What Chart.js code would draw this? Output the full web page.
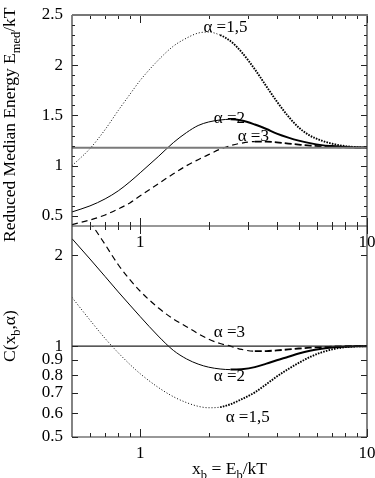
<!DOCTYPE html>
<html>
<head>
<meta charset="utf-8">
<script src="https://cdn.jsdelivr.net/npm/chart.js@4.4.1/dist/chart.umd.min.js"></script>
<style>
  html, body { margin: 0; padding: 0; background: #fff; }
  #wrap { position: relative; width: 375px; height: 478px; }
  #wrap canvas { position: absolute; left: 0; top: 0; }
</style>
</head>
<body>
<div id="wrap">
  <canvas id="lowerChart" width="375" height="478"></canvas>
  <canvas id="upperChart" width="375" height="478"></canvas>
</div>
<script>
/* ============================================================
   Reduced median energy (top) and correction C(x_b, alpha) (bottom)
   ============================================================ */

// x_b = E_b / kT, sampled on a common grid
const X_GRID = [0.5, 0.6, 0.7, 0.8, 0.9, 1.0, 1.2, 1.4, 1.6, 1.8, 2.0, 2.25, 2.5, 2.8, 3.2, 3.6, 4.0, 4.5, 5.0, 5.6, 6.3, 7.0, 8.0, 9.0, 10];

// upper panel: E_med / kT
const EMED_A15 = [1.00, 1.17, 1.36, 1.55, 1.71, 1.85, 2.05, 2.19, 2.27, 2.32, 2.33, 2.30, 2.24, 2.13, 1.96, 1.79, 1.64, 1.49, 1.38, 1.30, 1.25, 1.22, 1.195, 1.185, 1.18];
const EMED_A2 = [0.54, 0.60, 0.67, 0.75, 0.84, 0.93, 1.09, 1.23, 1.33, 1.40, 1.435, 1.455, 1.462, 1.45, 1.41, 1.365, 1.32, 1.28, 1.25, 1.225, 1.205, 1.195, 1.186, 1.182, 1.18];
const EMED_A3 = [0.414, 0.46, 0.51, 0.57, 0.63, 0.70, 0.82, 0.92, 1.00, 1.06, 1.11, 1.165, 1.20, 1.225, 1.24, 1.24, 1.232, 1.22, 1.21, 1.20, 1.192, 1.187, 1.183, 1.181, 1.18];
const EMED_LIMIT = 1.18;

// lower panel: C(x_b, alpha)
const C_A15 = [1.45, 1.22, 1.06, 0.95, 0.87, 0.81, 0.73, 0.68, 0.65, 0.632, 0.625, 0.628, 0.642, 0.667, 0.703, 0.748, 0.793, 0.84, 0.88, 0.92, 0.953, 0.975, 0.992, 0.998, 1.0];
const C_A2 = [2.27, 1.944, 1.70, 1.512, 1.368, 1.252, 1.08, 0.968, 0.907, 0.872, 0.852, 0.840, 0.836, 0.839, 0.852, 0.875, 0.898, 0.922, 0.945, 0.965, 0.98, 0.99, 0.996, 0.999, 1.0];
const C_A3 = [3.1, 2.58, 2.17, 1.86, 1.66, 1.52, 1.34, 1.23, 1.16, 1.10, 1.055, 1.02, 1.0, 0.975, 0.962, 0.963, 0.968, 0.975, 0.982, 0.988, 0.993, 0.997, 0.999, 1.0, 1.0];
const C_REF = 1;

// ticks
const X_LABELS = [1, 10];
const X_MINOR = [0.6, 0.7, 0.8, 0.9, 2, 3, 4, 5, 6, 7, 8, 9];
const EMED_LABELS = [0.5, 1, 1.5, 2, 2.5];
const EMED_MINOR = [0.6, 0.7, 0.8, 0.9, 1.1, 1.2, 1.3, 1.4, 1.6, 1.7, 1.8, 1.9, 2.1, 2.2, 2.3, 2.4];
const C_LABELS = [0.5, 0.6, 0.7, 0.8, 0.9, 1, 2];

// text
const CURVE_NAMES = ['\u03b1 =1,5', '\u03b1 =2', '\u03b1 =3'];
const EMED_TITLE = [['Reduced Median Energy E', false], ['med', true], ['/kT', false]];
const C_TITLE = [['C(x', false], ['b', true], [',\u03b1)', false]];
const X_TITLE = [['x', false], ['b', true], [' = E', false], ['b', true], ['/kT', false]];

const SERIF = '"Liberation Serif", "Times New Roman", Times, serif';
const FONT_SIZE = 17;
const TITLE_SIZE = 17.5;

// line looks: thin on the left, heavier once the curves settle
const DOTTED = { thin: 1, dash: [1, 2], thick: 1.9, dashThick: [1.6, 1.2], from: 2.2 };
const SOLID = { thin: 1, dash: [], thick: 2, dashThick: [], from: 2.5 };
const DASHED = { thin: 1.2, dash: [6, 4], thick: 1.8, dashThick: [7, 3], from: 3.2 };

function seriesPoints(ys) {
  return X_GRID.map((x, i) => ({ x, y: ys[i] }));
}

function curveDataset(ys, look) {
  return {
    data: seriesPoints(ys),
    borderColor: '#000',
    borderWidth: look.thin,
    borderDash: look.dash,
    pointRadius: 0,
    cubicInterpolationMode: 'monotone',
    segment: {
      borderWidth: c => (c.p0.parsed.x >= look.from ? look.thick : undefined),
      borderDash: c => (c.p0.parsed.x >= look.from ? look.dashThick : undefined),
    },
  };
}

function flatDataset(value, color, width) {
  return {
    data: [{ x: X_GRID[0], y: value }, { x: X_GRID[X_GRID.length - 1], y: value }],
    borderColor: color,
    borderWidth: width,
    pointRadius: 0,
  };
}

// ────────────────────────────────────────────────
// Text helpers (subscripts)
// ────────────────────────────────────────────────
function partFont(sub) {
  return (sub ? 12.5 : TITLE_SIZE) + 'px ' + SERIF;
}

function richWidth(ctx, parts) {
  let w = 0;
  parts.forEach(([t, sub]) => { ctx.font = partFont(sub); w += ctx.measureText(t).width; });
  return w;
}

function richText(ctx, parts, x, y) {
  let cx = x;
  parts.forEach(([t, sub]) => {
    ctx.font = partFont(sub);
    ctx.fillText(t, cx, sub ? y + 5 : y);
    cx += ctx.measureText(t).width;
  });
}

// ────────────────────────────────────────────────
// Frame, inward ticks, curve names, axis titles
// ────────────────────────────────────────────────
const framePlugin = {
  id: 'frame',
  afterDatasetsDraw(chart, args, opts) {
    const { ctx, chartArea: a, scales: { x, y } } = chart;
    ctx.save();

    // ticks
    ctx.strokeStyle = '#222';
    ctx.lineWidth = 1;
    ctx.beginPath();
    const xTick = (v, len) => {
      const px = Math.round(x.getPixelForValue(v)) + 0.5;
      if (opts.xTop) { ctx.moveTo(px, a.top); ctx.lineTo(px, a.top + len); }
      if (opts.xBottomUp) { ctx.moveTo(px, a.bottom); ctx.lineTo(px, a.bottom - len); }
      if (opts.xBottomDown) { ctx.moveTo(px, a.bottom); ctx.lineTo(px, a.bottom + len); }
    };
    X_MINOR.forEach(v => xTick(v, 4));
    X_LABELS.forEach(v => xTick(v, 8));
    const yTick = (v, len) => {
      const py = Math.round(y.getPixelForValue(v)) + 0.5;
      ctx.moveTo(a.left, py); ctx.lineTo(a.left + len, py);
      ctx.moveTo(a.right, py); ctx.lineTo(a.right - len, py);
    };
    (opts.yMinor || []).forEach(v => yTick(v, 3));
    opts.yMajor.forEach(v => yTick(v, 6));
    ctx.stroke();

    // frame
    ctx.strokeStyle = '#333';
    ctx.lineWidth = 1.2;
    ctx.beginPath();
    ctx.moveTo(a.left, a.top); ctx.lineTo(a.left, a.bottom);
    ctx.moveTo(a.right, a.top); ctx.lineTo(a.right, a.bottom);
    ctx.moveTo(a.left, a.bottom); ctx.lineTo(a.right, a.bottom);
    ctx.stroke();
    if (opts.topEdge) {
      ctx.strokeStyle = '#777';
      ctx.lineWidth = 2;
      ctx.beginPath();
      ctx.moveTo(a.left, a.top); ctx.lineTo(a.right + 1, a.top);
      ctx.stroke();
    }

    // curve names
    ctx.fillStyle = '#000';
    ctx.font = FONT_SIZE + 'px ' + SERIF;
    ctx.textAlign = 'left';
    ctx.textBaseline = 'middle';
    opts.names.forEach(n => {
      ctx.fillText(n.text, x.getPixelForValue(n.x), y.getPixelForValue(n.y));
    });

    // axis titles
    ctx.textBaseline = 'alphabetic';
    if (opts.yTitle) {
      ctx.save();
      ctx.translate(opts.yTitle.x, opts.yTitle.y);
      ctx.rotate(-Math.PI / 2);
      richText(ctx, opts.yTitle.parts, 0, 0);
      ctx.restore();
    }
    if (opts.xTitle) {
      const w = richWidth(ctx, opts.xTitle.parts);
      richText(ctx, opts.xTitle.parts, (a.left + a.right) / 2 - w / 2 + opts.xTitle.dx, opts.xTitle.y);
    }
    ctx.restore();
  }
};

function tickFont() {
  return { family: SERIF, size: FONT_SIZE };
}

function xScale(height, pad) {
  return {
    type: 'logarithmic',
    min: 0.5,
    max: 10,
    grid: { display: false, drawTicks: false },
    border: { display: false },
    afterBuildTicks: s => { s.ticks = X_LABELS.map(v => ({ value: v })); },
    afterFit: s => { s.height = height; s.paddingLeft = 0; s.paddingRight = 0; },
    ticks: {
      autoSkip: false,
      maxRotation: 0,
      padding: pad,
      color: '#000',
      font: tickFont(),
      callback: v => String(v),
    },
  };
}

function yScale(base, labels) {
  return Object.assign({
    grid: { display: false, drawTicks: false },
    border: { display: false },
    afterBuildTicks: s => { s.ticks = labels.map(v => ({ value: v })); },
    afterFit: s => { s.width = 72; s.paddingTop = 0; s.paddingBottom = 0; },
    ticks: {
      autoSkip: false,
      padding: 9,
      color: '#000',
      font: tickFont(),
      callback: v => String(v),
    },
  }, base);
}

function baseOptions(padding, scales, frame) {
  return {
    responsive: false,
    animation: false,
    events: [],
    layout: { padding },
    plugins: { legend: { display: false }, tooltip: { enabled: false }, frame },
    scales,
  };
}

// ────────────────────────────────────────────────
// Upper panel
// ────────────────────────────────────────────────
new Chart(document.getElementById('upperChart'), {
  type: 'line',
  data: {
    datasets: [
      flatDataset(EMED_LIMIT, '#7a7a7a', 2),
      curveDataset(EMED_A15, DOTTED),
      curveDataset(EMED_A2, SOLID),
      curveDataset(EMED_A3, DASHED),
    ],
  },
  options: baseOptions(
    { top: 15, right: 8, bottom: 222, left: 0 },
    {
      x: xScale(30, 6),
      y: yScale({ type: 'linear', min: 0.4, max: 2.5 }, EMED_LABELS),
    },
    {
      xTop: true, xBottomUp: true, xBottomDown: true, topEdge: true,
      yMajor: EMED_LABELS, yMinor: EMED_MINOR,
      names: [
        { text: CURVE_NAMES[0], x: 1.9, y: 2.38 },
        { text: CURVE_NAMES[1], x: 2.11, y: 1.47 },
        { text: CURVE_NAMES[2], x: 2.69, y: 1.29 },
      ],
      yTitle: { parts: EMED_TITLE, x: 15, y: 242 },
    }
  ),
  plugins: [framePlugin],
});

// ────────────────────────────────────────────────
// Lower panel
// ────────────────────────────────────────────────
new Chart(document.getElementById('lowerChart'), {
  type: 'line',
  data: {
    datasets: [
      flatDataset(C_REF, '#222', 1.3),
      curveDataset(C_A15, DOTTED),
      curveDataset(C_A2, SOLID),
      curveDataset(C_A3, DASHED),
    ],
  },
  options: baseOptions(
    { top: 226, right: 8, bottom: 0, left: 0 },
    {
      x: xScale(41, 6),
      y: yScale({ type: 'logarithmic', min: 0.5, max: 2.5 }, C_LABELS),
    },
    {
      xTop: false, xBottomUp: true, xBottomDown: false, topEdge: false,
      yMajor: C_LABELS,
      names: [
        { text: CURVE_NAMES[2], x: 2.11, y: 1.11 },
        { text: CURVE_NAMES[1], x: 2.11, y: 0.793 },
        { text: CURVE_NAMES[0], x: 2.38, y: 0.579 },
      ],
      yTitle: { parts: C_TITLE, x: 15, y: 362 },
      xTitle: { parts: X_TITLE, y: 474, dx: 10 },
    }
  ),
  plugins: [framePlugin],
});
</script>
</body>
</html>
